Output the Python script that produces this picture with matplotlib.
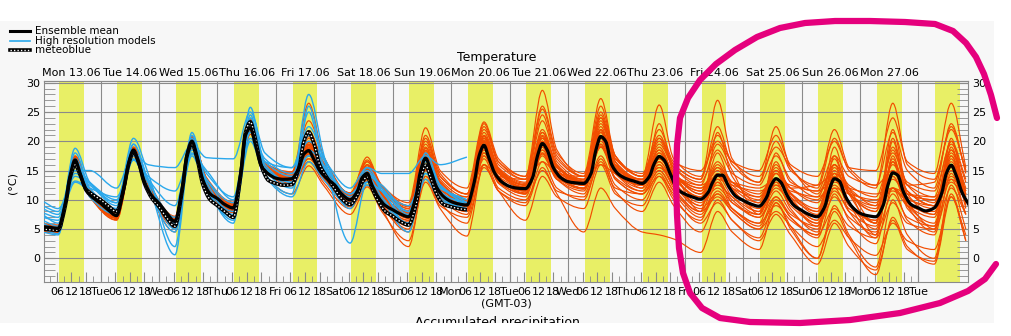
import matplotlib
matplotlib.use("Agg")
import matplotlib.pyplot as plt
from matplotlib.lines import Line2D
from matplotlib.patches import Rectangle, PathPatch
from matplotlib.path import Path
from matplotlib.ticker import FixedLocator, MultipleLocator

# x axis in days, day 0 = Mon 13.06 00:00 (GMT-03)
day_labels = ['Mon 13.06', 'Tue 14.06', 'Wed 15.06', 'Thu 16.06', 'Fri 17.06',
              'Sat 18.06', 'Sun 19.06', 'Mon 20.06', 'Tue 21.06', 'Wed 22.06',
              'Thu 23.06', 'Fri 24.06', 'Sat 25.06', 'Sun 26.06', 'Mon 27.06']
weekdays = ['Mon', 'Tue', 'Wed', 'Thu', 'Fri', 'Sat', 'Sun', 'Mon',
            'Tue', 'Wed', 'Thu', 'Fri', 'Sat', 'Sun', 'Mon', 'Tue']
hour_labels = {6: '06', 12: '12', 18: '18'}
daylight = (6.9, 17.1)  # hours shaded yellow

# ensemble mean, meteoblue: values at these hours of each day
mean_hours = [0, 3, 6.5, 9.5, 11.5, 13.5, 15.5, 18, 21]
ens_mean = [
    5.4, 5.3, 5.1, 9.5, 14.2, 16.8, 14.6, 11.6, 10.3,
    9.4, 8.3, 7.3, 11.8, 16.3, 18.5, 16.5, 13.0, 10.7,
    9.4, 7.8, 6.3, 12.0, 17.8, 20.0, 17.6, 13.4, 11.0,
    10.2, 9.2, 8.6, 14.5, 21.0, 22.3, 19.5, 15.8, 14.4,
    13.7, 13.5, 13.6, 15.5, 17.8, 18.4, 17.0, 15.0, 13.6,
    12.6, 11.0, 10.0, 11.5, 13.8, 14.5, 12.5, 10.5, 9.0,
    8.3, 7.6, 7.1, 10.5, 15.0, 17.1, 15.2, 12.2, 10.5,
    9.7, 9.3, 9.1, 13.0, 17.5, 19.3, 17.2, 14.5, 13.0,
    12.3, 12.0, 11.9, 13.8, 17.5, 19.6, 18.5, 15.5, 13.8,
    13.1, 12.9, 12.8, 14.5, 18.5, 20.8, 20.0, 16.0, 14.3,
    13.6, 13.2, 12.8, 14.0, 16.2, 17.4, 16.8, 14.5, 11.8,
    11.0, 10.5, 10.1, 11.2, 13.0, 14.2, 14.2, 12.3, 10.6,
    9.9, 9.3, 8.9, 10.3, 12.5, 13.6, 13.0, 10.8, 9.0,
    8.2, 7.5, 7.1, 8.8, 11.8, 13.6, 13.2, 10.6, 8.7,
    7.7, 7.3, 7.1, 9.0, 12.5, 14.6, 14.2, 11.2, 9.2,
    8.6, 8.1, 8.6, 11.0, 14.5, 15.9, 14.2, 11.2, 9.0,
]
meteoblue = [
    5.0, 4.9, 4.8, 9.0, 13.8, 16.0, 14.3, 11.8, 10.8,
    10.0, 9.0, 8.0, 12.0, 16.0, 18.2, 16.5, 12.8, 10.3,
    8.8, 7.0, 5.5, 11.5, 17.5, 19.6, 17.2, 12.6, 10.0,
    9.0, 8.0, 7.0, 14.0, 21.5, 23.3, 20.5, 15.8, 13.3,
    12.8, 12.5, 12.6, 15.5, 20.0, 21.6, 19.8, 16.0, 13.8,
    12.0, 10.2, 9.2, 10.8, 13.0, 13.9, 12.0, 9.8, 8.0,
    7.2, 6.3, 5.7, 9.0, 13.6, 15.9, 14.0, 11.0, 9.2,
    8.8, 8.5, 8.3,
]

# ensemble members: start value, then per day (morning min, afternoon max, evening)
member_hours = [6.5, 13.5, 19.5]
ens_members = [
    "5.6 5.4 17.2 11.6 7.8 18.8 12.8 6.6 20.4 13.2 8.9 22.8 15.6 13.8 19.5 15.0 10.4 15.2 10.8 7.8 18.0 12.6 9.8 20.5 15.0 12.5 21.0 15.8 13.2 22.5 15.6 13.0 18.5 14.4 11.0 16.0 12.5 10.0 15.5 11.2 8.5 15.0 11.0 8.0 16.5 11.5 9.0 17.5 11.0",
    "4.6 4.4 15.8 10.6 6.6 17.6 11.8 5.2 19.0 12.0 7.8 21.6 14.6 12.8 17.0 13.8 8.8 13.2 9.0 5.0 15.2 10.5 7.5 17.5 12.8 10.5 17.8 13.5 11.5 19.0 13.5 11.0 15.0 11.5 7.5 11.5 8.5 5.5 10.5 7.0 4.0 17.5 11.0 9.0 12.0 9.5 5.0 20.5 9.0",
    "5.2 5.0 16.5 11.0 7.0 18.4 12.6 6.0 20.6 13.4 8.6 23.2 15.8 14.2 21.5 16.2 10.8 16.5 12.2 8.8 21.0 14.5 11.0 23.0 16.5 14.0 28.7 18.5 14.0 24.0 17.0 14.5 21.0 16.0 13.5 27.0 17.0 13.0 22.5 15.5 12.0 20.5 15.0 12.0 26.5 16.0 13.5 22.0 15.0",
    "4.8 4.6 16.0 10.8 6.8 18.0 12.0 5.6 19.4 12.4 8.0 22.0 14.8 13.0 17.5 14.0 9.0 13.5 8.5 2.0 14.0 9.5 6.0 16.0 11.5 9.5 16.5 12.0 10.0 17.0 11.5 8.0 13.0 9.0 4.5 10.0 6.5 3.5 9.5 5.5 0.0 8.0 3.5 -2.8 7.0 2.0 -1.0 10.5 3.0",
    "5.9 5.7 17.5 12.0 8.2 19.0 13.2 7.0 20.8 13.5 9.4 23.5 16.0 14.5 26.5 17.5 11.0 17.3 12.0 9.0 19.5 13.5 10.5 21.5 15.5 13.0 23.5 16.5 13.5 25.0 17.5 14.0 20.5 15.5 12.5 19.5 15.0 7.5 18.0 13.0 11.5 17.5 14.0 12.5 15.0 12.5 10.5 20.0 13.5",
    "5.0 4.8 16.2 10.9 7.2 18.2 12.3 6.4 19.6 12.6 8.2 22.2 15.0 13.2 16.5 13.5 9.5 12.5 9.5 6.5 16.0 11.0 8.5 18.0 13.5 11.5 19.0 14.5 12.5 20.5 14.5 12.5 16.5 13.0 9.0 13.0 10.0 7.0 11.5 8.0 5.0 12.0 8.0 5.5 14.0 9.0 7.0 15.0 9.5",
    "5.3 5.1 16.9 11.3 7.5 18.6 12.6 6.2 20.2 13.0 8.8 22.6 15.4 13.6 18.8 14.8 10.0 14.0 10.0 6.0 15.5 10.5 8.0 17.0 12.0 10.0 15.0 11.0 4.5 12.0 8.5 4.5 4.0 3.3 1.0 8.0 4.5 1.5 9.5 5.0 0.0 9.0 4.0 -1.5 10.0 4.0 0.0 12.5 5.0",
    "5.5 5.3 17.0 11.4 7.6 18.9 12.9 6.8 20.5 13.0 9.0 22.9 15.5 13.9 20.0 15.2 10.6 15.5 11.0 7.5 17.5 12.5 9.5 19.8 14.5 12.5 20.5 15.5 13.5 21.5 15.5 13.5 18.5 14.5 12.0 15.5 13.0 11.0 14.5 12.0 10.0 14.0 11.5 9.5 13.5 11.0 10.0 15.5 11.5",
    "4.9 4.7 16.4 11.0 7.0 18.0 12.2 5.8 19.8 12.5 8.3 22.4 15.2 13.4 18.0 14.2 9.6 14.0 10.5 7.0 17.0 12.2 9.0 19.0 14.0 11.0 18.5 14.2 12.0 19.5 14.5 12.5 17.0 14.0 10.0 12.5 10.5 8.0 12.0 9.5 6.0 11.5 8.5 6.5 12.0 9.0 8.0 14.0 10.0",
    "5.7 5.5 17.3 11.8 7.9 19.0 13.0 6.9 20.9 13.6 9.2 23.6 16.2 14.8 23.5 17.5 11.0 16.0 12.5 9.0 20.0 14.0 11.0 22.0 16.5 13.5 24.5 17.0 14.0 26.0 17.5 14.0 26.2 17.0 14.0 21.0 16.5 14.0 19.0 15.5 11.0 16.0 12.0 6.0 22.0 12.5 13.0 22.5 15.0",
    "5.1 4.9 16.6 11.1 7.1 18.3 12.4 6.0 20.1 12.9 8.7 22.5 15.2 13.5 18.5 14.5 9.8 14.5 10.0 7.0 16.5 11.5 8.5 18.5 13.0 11.0 18.0 13.5 11.0 17.5 12.5 10.0 14.5 10.5 6.0 9.5 6.5 3.0 7.5 4.0 -1.0 6.0 2.0 -2.0 6.5 1.5 -0.5 11.0 3.0",
    "5.4 5.2 16.7 11.2 7.4 18.5 12.6 6.3 19.9 12.8 8.5 22.7 15.5 13.7 19.0 14.8 10.2 14.8 10.4 7.2 17.5 12.0 9.5 20.0 15.0 12.5 22.0 16.0 13.0 23.5 16.5 13.5 19.5 15.0 8.0 21.5 14.0 9.5 16.0 12.0 12.5 14.5 12.0 9.0 19.0 12.5 9.5 18.5 12.0",
    "5.0 4.8 16.3 11.0 7.0 18.1 12.1 5.5 19.5 12.2 8.0 21.8 14.9 12.5 16.5 13.0 8.5 12.5 8.8 5.5 15.0 10.5 8.0 17.5 13.0 11.0 17.5 13.5 12.5 19.0 14.5 12.0 16.0 12.5 8.5 11.0 8.5 6.0 9.0 6.5 4.0 8.5 5.5 3.5 9.5 6.0 5.0 12.0 7.5",
    "5.8 5.6 17.4 11.8 8.0 18.7 13.0 7.2 20.7 13.8 9.6 23.8 16.4 14.6 21.0 16.0 11.2 16.8 12.5 9.5 22.3 15.0 12.0 23.3 17.0 14.0 26.0 18.0 14.5 27.3 17.5 14.0 22.0 16.5 15.0 20.0 16.5 15.0 21.0 16.0 14.0 20.0 15.5 15.0 24.0 16.5 14.5 26.5 15.5",
    "4.5 4.3 15.5 10.5 6.5 17.4 11.6 4.5 18.8 11.8 7.2 21.2 14.2 11.0 15.8 12.5 7.5 12.2 8.0 3.0 13.0 8.5 3.8 16.0 11.5 9.0 15.5 11.5 10.5 16.5 12.0 11.0 14.0 11.0 7.0 11.0 8.0 5.0 10.0 7.0 3.5 11.0 6.5 2.5 12.0 6.5 4.0 14.5 7.5",
    "5.3 5.2 17.0 11.5 7.7 18.6 12.7 6.5 20.3 13.0 8.8 22.6 15.5 13.8 19.8 15.0 10.0 14.0 10.2 8.0 18.5 13.0 10.0 21.0 15.0 12.0 19.0 14.5 13.5 23.0 16.5 13.0 18.0 14.5 11.0 14.0 12.0 10.5 13.0 11.0 8.0 12.5 9.5 6.0 17.0 10.5 8.5 16.5 10.5",
    "5.1 4.9 16.5 11.2 7.3 18.3 12.5 6.1 19.8 12.7 8.4 22.3 15.3 14.0 17.0 15.0 11.0 13.0 11.5 8.5 14.0 11.5 10.5 16.0 14.0 13.5 16.5 14.5 14.0 16.0 14.5 13.5 15.5 14.0 12.5 14.0 13.0 12.0 13.5 12.5 11.5 13.0 12.0 11.0 12.0 11.0 10.5 13.5 11.0",
    "5.6 5.3 17.1 11.4 7.6 18.7 12.8 6.6 20.2 13.1 8.7 23.0 15.6 13.6 20.5 15.4 10.5 15.8 11.2 7.5 18.8 12.8 9.0 20.8 14.8 12.0 20.0 15.0 12.5 21.0 15.0 12.5 17.5 13.5 10.5 14.5 11.5 8.5 13.5 10.0 6.5 14.0 9.5 5.0 15.0 9.0 6.0 17.0 9.5",
    "4.7 4.5 16.1 10.8 6.9 17.9 12.0 5.9 19.3 12.3 7.9 22.1 15.0 13.0 17.5 13.8 9.2 13.8 9.2 6.2 16.0 11.0 8.2 18.0 13.2 11.5 18.5 14.0 12.0 20.0 14.5 11.5 16.0 12.0 8.0 13.5 9.5 7.5 12.5 9.0 6.0 13.5 9.0 6.5 14.0 9.5 7.5 16.0 10.0",
    "5.4 5.2 16.8 11.3 7.5 18.5 12.6 6.4 20.0 12.9 8.6 22.6 15.4 13.5 19.2 15.0 10.3 15.0 10.8 7.8 18.2 12.5 10.0 21.0 15.3 12.8 21.5 16.0 13.0 22.0 16.0 13.5 20.0 15.5 13.0 18.5 14.5 12.5 17.5 13.5 10.5 16.0 12.5 10.5 18.0 13.0 11.5 19.5 13.0",
    "5.0 4.8 16.4 11.0 7.0 18.2 12.3 5.6 19.5 12.5 8.1 22.0 15.0 13.2 17.8 14.0 9.5 13.2 9.0 4.5 13.5 9.0 7.0 15.5 11.5 6.5 14.0 10.5 8.5 16.0 11.0 9.0 14.0 10.0 6.5 13.0 8.5 6.0 13.0 8.5 4.5 14.5 8.0 4.0 16.5 8.5 5.5 17.5 8.5",
    "5.5 5.3 17.0 11.5 7.8 18.8 12.9 6.7 20.4 13.2 9.0 23.1 15.7 14.0 20.8 15.8 10.8 16.0 11.5 8.2 19.0 13.2 10.0 20.5 15.2 12.5 20.0 15.0 13.0 21.5 15.5 13.0 17.0 14.0 11.5 15.0 12.0 9.5 14.5 11.0 7.5 15.5 11.0 8.5 16.0 11.5 9.0 18.0 11.5",
    "5.2 5.0 16.6 11.2 7.2 18.4 12.4 6.2 19.9 12.8 8.5 22.4 15.2 13.4 18.0 14.6 10.0 14.5 10.5 7.5 17.0 12.0 9.5 19.0 14.0 12.0 19.5 14.5 12.5 20.5 14.5 12.5 16.5 13.0 9.5 12.0 9.5 7.0 10.5 7.5 5.5 10.5 7.0 4.5 11.0 7.0 5.5 13.5 7.5",
    "5.6 5.4 17.1 11.6 7.6 18.6 12.8 6.5 20.2 13.0 8.9 22.8 15.6 13.7 19.5 15.2 10.2 15.0 10.8 7.0 17.8 12.5 9.2 19.8 14.6 12.2 20.5 15.5 13.2 22.0 16.0 13.0 19.0 14.5 11.5 16.5 13.0 10.5 15.0 12.0 9.5 14.5 11.5 4.0 20.0 11.0 10.0 16.0 11.5",
    "5.3 5.1 16.8 11.3 7.4 18.5 12.6 6.3 20.1 12.9 8.6 22.6 15.4 13.6 18.8 14.8 10.1 14.6 10.5 7.6 17.5 12.4 9.5 19.5 14.5 12.0 21.5 15.5 13.0 24.5 16.5 12.0 23.0 14.5 10.0 18.0 12.0 8.0 16.5 10.5 6.5 19.0 11.0 6.0 20.5 11.0 7.5 20.0 10.5",
    "4.9 4.7 16.2 10.9 7.0 18.0 12.1 5.7 19.6 12.4 8.2 22.2 15.0 13.3 17.6 14.2 9.4 13.6 9.6 6.5 16.5 11.2 8.5 18.5 13.5 11.5 19.0 14.0 12.0 19.5 13.5 11.0 15.0 11.5 8.0 10.5 8.0 5.0 8.0 5.5 2.0 6.5 3.5 0.5 6.0 3.0 1.5 10.5 4.0",
    "5.7 5.5 17.4 11.8 7.9 18.9 13.0 6.9 20.8 13.5 9.3 23.4 16.0 14.4 21.8 16.5 11.1 16.5 12.0 8.5 20.5 14.0 11.0 22.5 16.0 13.5 25.5 17.5 14.0 24.0 17.0 14.0 20.5 16.0 13.5 22.5 16.0 13.0 20.0 15.0 12.5 22.0 15.5 12.5 21.5 15.0 12.0 23.0 14.5",
    "5.0 4.8 16.3 11.0 7.1 18.1 12.2 5.9 19.7 12.6 8.3 22.3 15.1 13.3 18.2 14.3 9.7 14.2 10.2 6.8 16.8 11.8 8.8 18.8 13.5 11.2 18.0 13.8 11.8 19.2 13.8 11.5 15.5 12.5 9.0 14.0 10.5 7.5 14.5 10.0 5.5 16.0 9.5 3.5 17.5 9.0 4.5 19.0 9.5",
    "5.4 5.2 16.9 11.4 7.5 18.6 12.7 6.4 20.2 13.0 8.7 22.7 15.5 13.7 19.3 15.0 10.4 15.3 10.9 7.9 18.4 12.7 9.8 20.2 15.0 12.6 20.8 15.6 13.1 21.8 15.8 13.2 18.0 14.2 12.0 13.5 12.5 11.5 12.5 11.5 10.5 12.0 11.0 10.0 11.5 10.0 9.0 13.0 10.0",
    "5.2 5.0 16.6 11.1 7.3 18.4 12.5 6.2 19.9 12.8 8.5 22.5 15.3 13.5 18.6 14.7 10.0 14.6 10.5 7.3 17.3 12.2 9.3 19.5 14.5 12.2 20.0 15.0 12.8 21.0 15.2 12.8 17.5 13.8 10.5 15.5 11.5 9.0 15.0 10.5 8.0 17.0 11.0 8.0 18.5 11.5 9.0 18.5 11.0",
]
# high resolution models, same layout, run until Mon 20.06 morning
hires_models = [
    "9.8 8.5 13.2 12.0 10.5 16.8 14.0 11.5 17.8 15.0 10.0 20.5 15.5 12.5 17.5 15.0 10.5 13.0 11.5 9.0 14.5 12.0 10.0",
    "7.5 6.0 15.0 15.0 12.0 18.0 16.0 15.5 19.5 17.2 17.0 25.0 18.0 15.5 20.0 17.0 12.0 15.5 14.5 14.5 17.5 16.0 17.3",
    "6.0 5.0 18.8 13.0 9.5 20.5 14.5 2.0 21.5 12.5 6.0 25.8 16.0 13.0 28.0 18.0 2.6 13.0 10.0 6.0 18.0 12.5 9.0",
    "5.0 4.2 17.0 11.5 8.0 19.5 13.0 0.6 20.5 11.5 7.0 24.5 14.5 11.0 26.0 17.0 10.0 15.5 12.0 8.0 17.0 11.5 9.0",
    "8.5 7.5 14.0 12.5 9.0 17.5 13.0 7.0 18.0 13.5 9.5 21.5 16.5 14.0 17.5 15.5 11.0 13.0 11.5 5.5 13.5 10.0 8.5",
    "7.0 6.5 13.0 11.5 8.5 16.8 12.0 6.0 17.5 12.0 8.0 20.0 14.0 10.5 16.5 13.5 9.0 12.5 10.0 4.5 14.5 10.5 8.0",
    "4.5 4.0 16.5 10.5 7.5 18.5 12.0 4.5 19.0 12.0 6.5 22.5 15.0 12.0 21.0 15.5 8.5 14.0 10.5 6.0 16.0 11.0 9.5",
    "9.0 8.0 15.5 13.0 10.0 17.0 13.5 9.0 19.0 14.5 10.5 23.0 16.5 15.5 22.5 17.5 10.0 14.5 12.0 7.5 16.5 12.5 9.5",
    "6.5 5.5 18.0 12.0 8.5 19.5 13.5 5.5 21.0 13.0 7.5 24.0 15.5 13.0 25.0 16.0 9.5 15.0 11.5 7.0 17.0 12.5 9.0",
    "7.8 7.0 14.5 12.8 9.5 17.8 13.5 5.0 18.5 13.5 8.5 22.0 17.0 14.5 18.5 16.0 11.0 14.0 12.5 8.0 15.5 12.0 10.0",
]

orange = '#f24d00'
blue = '#2aa8ec'
yellow = '#e8ef66'
panel = '#f7f7f7'
gridc = '#8a8a8a'
magenta = '#e5007d'

W, H = 1012, 336
n_days = 16
t_mean = [d + h / 24 for d in range(n_days) for h in mean_hours]
t_mem = [0.0] + [d + h / 24 for d in range(n_days) for h in member_hours]


def smooth_path(x, y):
    # monotone cubic (pchip-like) bezier through the given points
    n = len(x)
    h = [x[i + 1] - x[i] for i in range(n - 1)]
    s = [(y[i + 1] - y[i]) / h[i] for i in range(n - 1)]
    m = [s[0]] + [0.0] * (n - 2) + [s[-1]]
    for i in range(1, n - 1):
        if s[i - 1] * s[i] > 0:
            w1 = 2 * h[i] + h[i - 1]
            w2 = h[i] + 2 * h[i - 1]
            m[i] = (w1 + w2) / (w1 / s[i - 1] + w2 / s[i])
    verts = [(x[0], y[0])]
    codes = [Path.MOVETO]
    for i in range(n - 1):
        verts += [(x[i] + h[i] / 3, y[i] + m[i] * h[i] / 3),
                  (x[i + 1] - h[i] / 3, y[i + 1] - m[i + 1] * h[i] / 3),
                  (x[i + 1], y[i + 1])]
        codes += [Path.CURVE4] * 3
    return Path(verts, codes)


def draw(ax, x, y, **kw):
    ax.add_patch(PathPatch(smooth_path(x, y), fill=False, **kw))


fig = plt.figure(figsize=(W / 100, H / 100), dpi=100)
fig.patch.set_facecolor('white')
fig.add_artist(Rectangle((0, 1 - 323 / H), 994 / W, 302 / H, transform=fig.transFigure,
                         facecolor=panel, edgecolor='none', zorder=-5))

ax = fig.add_axes([44 / W, 1 - 281.7 / H, 924 / W, 200.7 / H])
ax.set_facecolor(panel)

for d in range(n_days):
    ax.axvspan(d + daylight[0] / 24, d + daylight[1] / 24, color=yellow, lw=0, zorder=0.2)
for d in range(1, n_days):
    ax.axvline(d, color=gridc, lw=0.8, zorder=0.5)
for v in range(0, 31, 5):
    ax.axhline(v, color=gridc, lw=0.8, zorder=0.5)

for s in ens_members:
    vals = [float(v) for v in s.split()]
    draw(ax, t_mem[:len(vals)], vals, edgecolor=orange, lw=0.85, zorder=3)
for s in hires_models:
    vals = [float(v) for v in s.split()]
    draw(ax, t_mem[:len(vals)], vals, edgecolor=blue, lw=1.0, zorder=4)
draw(ax, t_mean[:len(meteoblue)], meteoblue, edgecolor='black', lw=2.6, zorder=5)
draw(ax, t_mean[:len(meteoblue)], meteoblue, edgecolor='white', lw=1.0,
     linestyle=(0, (1, 1.5)), zorder=6)
draw(ax, t_mean, ens_mean, edgecolor='black', lw=2.3, zorder=7)

ax.set_xlim(0.03, 15.85)
ax.set_ylim(-4, 30.3)

# ticks
major_x, major_lab = [], []
for d in range(n_days):
    for h in (0, 6, 12, 18):
        if d + h / 24 > 15 or (d == 0 and h == 0):
            continue
        major_x.append(d + h / 24)
        major_lab.append(weekdays[d] if h == 0 else hour_labels[h])
ax.set_xticks(major_x, labels=major_lab)
ax.xaxis.set_minor_locator(FixedLocator([d + h / 24 for d in range(15) for h in (3, 9, 15, 21)]))
ax.tick_params(axis='x', which='major', direction='in', length=7, color=gridc,
               labelsize=8, pad=4)
ax.tick_params(axis='x', which='minor', direction='in', length=4, color=gridc)

ax.set_yticks(range(0, 31, 5))
ax.yaxis.set_minor_locator(MultipleLocator(1))
ax.tick_params(axis='y', which='both', direction='in', left=True, right=True,
               labelleft=True, labelright=True, length=8, color=gridc, labelsize=8, pad=3)
for sp in ax.spines.values():
    sp.set_color(gridc)
    sp.set_linewidth(0.8)

top = ax.secondary_xaxis('top')
top.set_xticks([d + 0.5 for d in range(15)], labels=day_labels)
top.tick_params(length=0, labelsize=8, pad=2)
top.spines['top'].set_color(gridc)

ax.set_ylabel('(°C)', fontsize=8)
ax.yaxis.set_label_coords(-0.029, 0.49)

# titles
fig.text(497 / W, 1 - 58 / H, 'Temperature', ha='center', va='center', fontsize=9)
fig.text(506 / W, 1 - 304 / H, '(GMT-03)', ha='center', va='center', fontsize=8)
fig.text(497 / W, 1 - 316 / H, 'Accumulated precipitation', ha='center', va='top', fontsize=9)
fig.add_artist(Rectangle((0, 0), 1, 1 - 323 / H, transform=fig.transFigure,
                         facecolor='white', edgecolor='none', zorder=8))

# legend
legend_rows = [('Ensemble mean', 31), ('High resolution models', 41), ('meteoblue', 50)]
for i, (lab, yp) in enumerate(legend_rows):
    yf = 1 - yp / H
    xs = [10 / W, 30 / W]
    if i == 0:
        fig.add_artist(Line2D(xs, [yf, yf], color='black', lw=2.2, transform=fig.transFigure))
    elif i == 1:
        fig.add_artist(Line2D(xs, [yf, yf], color=blue, lw=1.2, transform=fig.transFigure))
    else:
        fig.add_artist(Line2D(xs, [yf, yf], color='black', lw=2.6, transform=fig.transFigure))
        fig.add_artist(Line2D(xs, [yf, yf], color='white', lw=1.0, ls=(0, (1, 1.5)),
                              transform=fig.transFigure))
    fig.text(35 / W, yf, lab, ha='left', va='center', fontsize=7.5)

# hand-drawn highlight loop (figure pixels)
loop_px = [(997, 118), (991, 95), (984, 74), (976, 57), (966, 43), (953, 31), (935, 24),
           (905, 22), (870, 21), (835, 21), (805, 23), (780, 28), (757, 37), (735, 50),
           (716, 64), (700, 80), (688, 98), (680, 118), (677, 145), (676, 180), (677, 215),
           (679, 248), (683, 273), (690, 293), (702, 308), (720, 318), (750, 322),
           (800, 323), (850, 320), (900, 313), (940, 303), (968, 291), (985, 279), (996, 264)]
fig.add_artist(Line2D([p[0] / W for p in loop_px], [1 - p[1] / H for p in loop_px],
                      color=magenta, lw=4.5, solid_capstyle='round', solid_joinstyle='round',
                      transform=fig.transFigure, zorder=9))

fig.savefig('out.png', dpi=100)
